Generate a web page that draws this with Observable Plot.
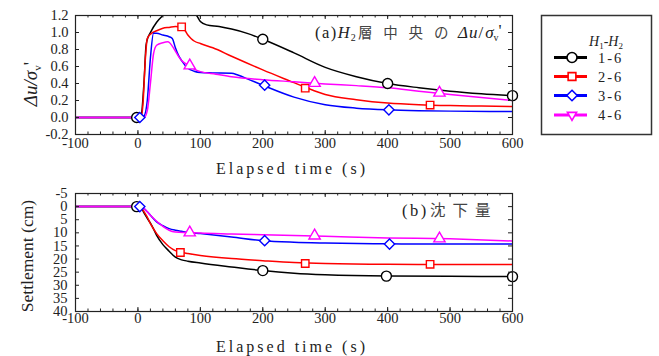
<!DOCTYPE html>
<html>
<head>
<meta charset="utf-8">
<script src="https://cdn.jsdelivr.net/npm/d3@7"></script>
<script src="https://cdn.jsdelivr.net/npm/@observablehq/plot@0.6"></script>
<style>
  body { margin: 0; background: white; }
  #wrap { position: relative; width: 659px; height: 356px; background: white; }
  #wrap > svg { position: absolute; left: 0; }
</style>
</head>
<body>
<div id="wrap"></div>
<script>
// ---------- data ----------
const seriesNames = ["1-6", "2-6", "3-6", "4-6"];
const seriesColors = ["#000000", "#ff0000", "#0000ff", "#ff00ff"];
const seriesSymbols = ["circle", "square", "diamond2", "triangle"];

// panel (a): Δu/σv'
const tA1 = [-100, 0, 5, 10, 13, 16, 20, 30, 40, 50, 60, 70, 80, 88, 94, 100, 110, 130, 150, 175, 200, 250, 300, 350, 400, 450, 500, 550, 600];
const vA1 = [0, 0, 0.02, 0.45, 0.85, 0.94, 1.0, 1.12, 1.2, 1.26, 1.3, 1.3, 1.28, 1.24, 1.2, 1.13, 1.09, 1.07, 1.04, 0.99, 0.92, 0.76, 0.59, 0.48, 0.40, 0.35, 0.31, 0.28, 0.257];
const tA2 = [-100, 0, 5, 8, 12, 15, 20, 30, 40, 50, 60, 70, 75, 80, 85, 90, 100, 120, 150, 200, 250, 270, 300, 350, 400, 450, 500, 550, 600];
const vA2 = [0, 0, 0, 0.15, 0.7, 0.93, 0.98, 1.02, 1.05, 1.06, 1.07, 1.065, 1.03, 0.97, 0.93, 0.9, 0.87, 0.82, 0.72, 0.56, 0.41, 0.35, 0.27, 0.21, 0.17, 0.15, 0.14, 0.135, 0.13];
const tA3 = [-100, 0, 5, 10, 15, 20, 25, 30, 40, 50, 55, 60, 65, 70, 80, 90, 100, 120, 150, 160, 180, 200, 250, 300, 350, 400, 450, 500, 600];
const vA3 = [0, 0, 0, 0.02, 0.2, 0.7, 0.99, 0.99, 0.97, 0.95, 0.93, 0.82, 0.73, 0.67, 0.58, 0.545, 0.53, 0.525, 0.52, 0.5, 0.44, 0.38, 0.24, 0.15, 0.11, 0.09, 0.08, 0.075, 0.07];
const tA4 = [-100, 0, 10, 15, 20, 25, 30, 40, 48, 55, 60, 65, 70, 80, 90, 100, 125, 150, 200, 250, 300, 350, 400, 450, 500, 550, 600];
const vA4 = [0, 0, 0, 0.08, 0.4, 0.75, 0.85, 0.88, 0.89, 0.84, 0.78, 0.72, 0.67, 0.62, 0.57, 0.54, 0.51, 0.48, 0.445, 0.42, 0.395, 0.375, 0.35, 0.31, 0.27, 0.235, 0.20];
// panel (a) marker points
const mtA1 = [-2, 200, 400, 600], mvA1 = [0, 0.92, 0.40, 0.257];
const mtA2 = [70, 268, 468],      mvA2 = [1.066, 0.345, 0.146];
const mtA3 = [3, 203, 402],       mvA3 = [0, 0.38, 0.09];
const mtA4 = [83, 283, 483],      mvA4 = [0.61, 0.405, 0.29];

// panel (b): settlement (cm)
const tB1 = [-100, 0, 5, 10, 15, 20, 25, 30, 40, 50, 60, 70, 80, 100, 150, 200, 250, 300, 400, 500, 600];
const vB1 = [0, 0, 0.5, 2.5, 4.5, 6.3, 8.5, 11, 14.5, 17, 19.3, 20.3, 20.8, 21.5, 23, 24.4, 25.4, 26, 26.5, 26.6, 26.7];
const tB2 = [-100, 0, 5, 10, 15, 20, 30, 40, 50, 60, 70, 80, 100, 150, 200, 250, 300, 400, 500, 600];
const vB2 = [0, 0, 0.3, 2, 4, 6.5, 10.3, 13, 15.3, 16.8, 17.5, 17.9, 18.6, 19.8, 20.6, 21.3, 21.7, 22, 22.05, 22.1];
const tB3 = [-100, 0, 5, 10, 15, 20, 30, 40, 50, 60, 70, 80, 100, 150, 200, 250, 300, 400, 500, 600];
const vB3 = [0, 0, 0.1, 0.8, 2, 3.3, 5.8, 7.3, 8.4, 9, 9.4, 9.8, 10.3, 11.6, 13, 13.6, 13.9, 14.2, 14.3, 14.3];
const tB4 = [-100, 0, 5, 10, 15, 20, 30, 40, 50, 55, 60, 80, 100, 150, 200, 250, 300, 400, 500, 600];
const vB4 = [0, 0, 0.1, 0.8, 2, 3.3, 5.6, 7.5, 9, 9.5, 9.7, 9.9, 10.1, 10.4, 10.7, 11, 11.3, 11.95, 12.3, 13.1];
// panel (b) marker points
const mtB1 = [-2, 200, 398, 600], mvB1 = [0, 24.4, 26.5, 26.7];
const mtB2 = [68, 268, 468],      mvB2 = [17.5, 21.7, 22.0];
const mtB3 = [3, 203, 403],       mvB3 = [0, 13.0, 14.3];
const mtB4 = [83, 283, 483],      mvB4 = [9.9, 11.1, 12.2];

// ticks
const xMajor = d3.range(-100, 601, 100);
const xMinor = d3.range(-100, 601, 20);
const yMajorA = [-0.2, 0, 0.2, 0.4, 0.6, 0.8, 1.0, 1.2];
const yMajorB = [-5, 0, 5, 10, 15, 20, 25, 30, 35, 40];

// ---------- helpers ----------
const zip = (ts, vs) => ts.map((t, i) => ({t, v: vs[i]}));
const linesA = [zip(tA1, vA1), zip(tA2, vA2), zip(tA3, vA3), zip(tA4, vA4)];
const dotsA = [zip(mtA1, mvA1), zip(mtA2, mvA2), zip(mtA3, mvA3), zip(mtA4, mvA4)];
const linesB = [zip(tB1, vB1), zip(tB2, vB2), zip(tB3, vB3), zip(tB4, vB4)];
const dotsB = [zip(mtB1, mvB1), zip(mtB2, mvB2), zip(mtB3, mvB3), zip(mtB4, mvB4)];

const FONT = "Liberation Serif, Times New Roman, Times, serif";
const CJK = "Noto Sans CJK JP, sans-serif";
const W = 530, ML = 75, MR = 18;
const plotW = W - ML - MR;

function frameTicks(plotH, yMajor) {
  const c = "#222";
  return [
    Plot.ruleX(xMajor, {x: d => d, insetTop: plotH - 4, stroke: c}),
    Plot.ruleX(xMajor, {x: d => d, insetBottom: plotH - 4, stroke: c}),
    Plot.ruleX(xMinor, {x: d => d, insetTop: plotH - 2.5, stroke: c}),
    Plot.ruleX(xMinor, {x: d => d, insetBottom: plotH - 2.5, stroke: c}),
    Plot.ruleY(yMajor, {y: d => d, insetRight: plotW - 4, stroke: c}),
    Plot.ruleY(yMajor, {y: d => d, insetLeft: plotW - 4, stroke: c}),
  ];
}

const symR = {circle: 5, square: 4.2, diamond2: 4.6, triangle: 4.2};
function seriesMarks(lines, dots) {
  const marks = [];
  lines.forEach((rows, i) => {
    marks.push(Plot.line(rows, {x: "t", y: "v", stroke: seriesColors[i], strokeWidth: 1.5, curve: "monotone-x", clip: true}));
  });
  dots.forEach((rows, i) => {
    marks.push(Plot.dot(rows, {x: "t", y: "v", symbol: seriesSymbols[i], stroke: seriesColors[i], fill: "white",
      r: symR[seriesSymbols[i]], strokeWidth: 1.4}));
  });
  return marks;
}

// ---------- panel (a) ----------
const HA = 180, MTA = 15, MBA = 46;
const svgA = Plot.plot({
  width: W, height: HA,
  marginLeft: ML, marginRight: MR, marginTop: MTA, marginBottom: MBA,
  x: {domain: [-100, 600]},
  y: {domain: [-0.2, 1.2]},
  style: {fontFamily: FONT, fontSize: "14.5px", color: "#222", background: "white"},
  marks: [
    ...seriesMarks(linesA, dotsA),
    Plot.frame({stroke: "#222", strokeWidth: 1.2}),
    ...frameTicks(HA - MTA - MBA, yMajorA),
    Plot.axisX({ticks: xMajor, tickSize: 0, tickPadding: 3, tickFormat: d => String(d), label: null, fontSize: 14.5}),
    Plot.axisY({ticks: yMajorA, tickSize: 0, tickPadding: 7, tickFormat: d => d.toFixed(1), label: null, fontSize: 14.5}),
  ]
});
svgA.style.top = "0px";

// ---------- panel (b) ----------
const HB = 176, MTB = 13, MBB = 45;
const svgB = Plot.plot({
  width: W, height: HB,
  marginLeft: ML, marginRight: MR, marginTop: MTB, marginBottom: MBB,
  x: {domain: [-100, 600]},
  y: {domain: [-5, 40], reverse: true},
  style: {fontFamily: FONT, fontSize: "14.5px", color: "#222", background: "white"},
  marks: [
    ...seriesMarks(linesB, dotsB),
    Plot.frame({stroke: "#222", strokeWidth: 1.2}),
    ...frameTicks(HB - MTB - MBB, yMajorB),
    Plot.axisX({ticks: xMajor, tickSize: 0, tickPadding: 1, tickFormat: d => String(d), label: null, fontSize: 14.5}),
    Plot.axisY({ticks: yMajorB, tickSize: 0, tickPadding: 8, tickFormat: d => String(d), label: null, fontSize: 14.5}),
  ]
});
svgB.style.top = "180px";

const wrap = document.getElementById("wrap");
wrap.appendChild(svgA);
wrap.appendChild(svgB);

// ---------- text labels ----------
function addText(svg, x, y, parts, opts = {}) {
  const t = d3.select(svg).append("text")
    .attr("x", x).attr("y", y)
    .style("font-family", opts.family || FONT)
    .attr("font-size", opts.size || 16)
    .attr("fill", opts.fill || "#222")
    .attr("text-anchor", opts.anchor || "start");
  if (opts.rotate) t.attr("transform", `rotate(-90 ${x} ${y})`);
  if (opts.spacing) t.attr("letter-spacing", opts.spacing);
  parts.forEach(p => {
    const s = t.append("tspan").text(p.text);
    if (p.italic) s.attr("font-style", "italic");
    if (p.size) s.attr("font-size", p.size);
    if (p.dy) s.attr("dy", p.dy);
    if (p.spacing != null) s.attr("letter-spacing", p.spacing);
  });
  return t;
}

// x titles
addText(svgA, 292, 174, [{text: "Elapsed time (s)"}], {size: 16, anchor: "middle", spacing: 3});
addText(svgB, 292, 171.5, [{text: "Elapsed time (s)"}], {size: 16, anchor: "middle", spacing: 3});

// y titles
addText(svgA, 37, 84, [
  {text: "Δu/σ", italic: true},
  {text: "v", size: 11, dy: 4},
  {text: "'", dy: -4}
], {size: 19, anchor: "middle", rotate: true});
addText(svgB, 33, 76, [{text: "Settlement (cm)"}], {size: 17.5, anchor: "middle", rotate: true});

// panel annotations
addText(svgA, 315, 38, [
  {text: "(a)", spacing: 1.5},
  {text: "H", italic: true, spacing: 1},
  {text: "2", size: 10, dy: 3},
], {size: 16.5});
addText(svgA, 358, 38, [{text: "層中央の"}], {size: 14.5, spacing: 10.8, fill: "#444", family: CJK});
addText(svgA, 458, 38, [
  {text: "Δu", italic: true, spacing: 1},
  {text: "/", spacing: 2},
  {text: "σ", italic: true},
  {text: "v", size: 10, dy: 3},
  {text: "'", dy: -5},
], {size: 17});
addText(svgB, 402, 36, [{text: "(b)"}], {size: 16.5, spacing: 2.5});
addText(svgB, 430, 36, [{text: "沈下量"}], {size: 15.5, spacing: 7, fill: "#444", family: CJK});

// ---------- legend ----------
const leg = d3.select(wrap).append("svg")
  .attr("width", 659).attr("height", 180)
  .style("position", "absolute").style("left", "0px").style("top", "0px")
  .style("pointer-events", "none");
leg.append("rect").attr("x", 541.5).attr("y", 15.5).attr("width", 110).attr("height", 119)
  .attr("fill", "white").attr("stroke", "#333").attr("stroke-width", 1.5);
const legTitle = leg.append("text").attr("x", 606).attr("y", 46)
  .style("font-family", FONT).attr("font-size", 14).attr("text-anchor", "middle").attr("fill", "#222");
legTitle.append("tspan").text("H").attr("font-style", "italic");
legTitle.append("tspan").text("1").attr("font-size", 9).attr("dy", 3);
legTitle.append("tspan").text("-").attr("dy", -3);
legTitle.append("tspan").text("H").attr("font-style", "italic");
legTitle.append("tspan").text("2").attr("font-size", 9).attr("dy", 3);

const legY = [57.5, 76.5, 95.5, 115];
const d3Symbols = [d3.symbolCircle, d3.symbolSquare, d3.symbolDiamond2, d3.symbolTriangle2];
const symSizes = [78, 60, 70, 60];
seriesNames.forEach((name, i) => {
  const y = legY[i];
  leg.append("line").attr("x1", 554).attr("x2", 587).attr("y1", y).attr("y2", y)
    .attr("stroke", seriesColors[i]).attr("stroke-width", 2.8);
  leg.append("path").attr("d", d3.symbol(d3Symbols[i], symSizes[i])())
    .attr("transform", `translate(572,${y})` + (i === 3 ? " rotate(180)" : ""))
    .attr("fill", "white").attr("stroke", seriesColors[i]).attr("stroke-width", 1.6);
  leg.append("text").attr("x", 598).attr("y", y + 5).style("font-family", FONT).attr("font-size", 14.5)
    .attr("letter-spacing", 2).attr("fill", "#222").text(name);
});
</script>
</body>
</html>
